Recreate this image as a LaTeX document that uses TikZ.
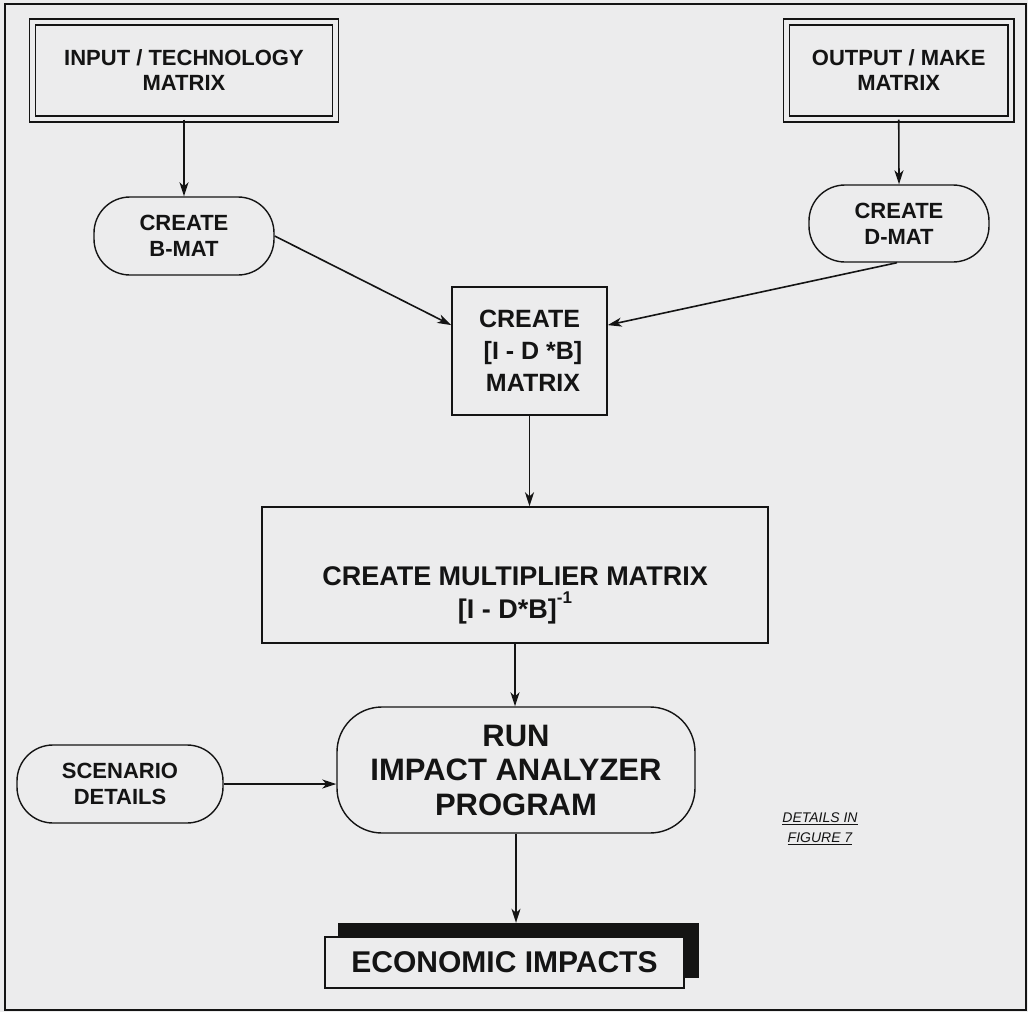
\documentclass[tikz,border=0pt]{standalone}
\usepackage{fontspec}
\setmainfont{Liberation Sans}
\usetikzlibrary{arrows.meta,calc}
\definecolor{paper}{RGB}{236,236,237}
\definecolor{ink}{RGB}{20,20,20}
\newcommand{\fsz}[2]{\bfseries\fontsize{#1}{#2}\selectfont}
\tikzset{
  every node/.style={text=ink, inner sep=0pt, align=center},
  dbox/.style={draw=ink, double=paper, double distance=4.5pt, line width=1.3pt},
  pbox/.style={draw=ink, line width=1.4pt, fill=paper},
  arr/.style={draw=ink, line width=1.6pt, -{Stealth[length=14pt,width=9pt,inset=4pt]}}
}
\begin{document}
\begin{tikzpicture}[x=1pt,y=-1pt]
\useasboundingbox (0,0) rectangle (1028,1012);
\fill[paper] (0,0) rectangle (1028,1012);
\draw[ink, line width=1.8pt] (5,4) rectangle (1026,1010);

\node[dbox, font=\fsz{22}{25}, minimum width=303pt, minimum height=97pt] (inp) at (184,70.5)
  {INPUT / TECHNOLOGY\\MATRIX};
\node[dbox, font=\fsz{22}{25}, minimum width=224.5pt, minimum height=97pt] (out) at (898.75,70.5)
  {OUTPUT / MAKE\\MATRIX};

\node[pbox, font=\fsz{22}{26}, rounded corners=36pt, minimum width=180pt, minimum height=78pt] (bmat) at (184,236)
  {CREATE\\B-MAT};
\node[pbox, font=\fsz{22}{26}, rounded corners=36pt, minimum width=180pt, minimum height=77pt] (dmat) at (899,223.5)
  {CREATE\\D-MAT};

\node[pbox, font=\fsz{25}{32}, minimum width=155pt, minimum height=128pt] (crm) at (529.5,351)
  {CREATE\\\ {[}I - D *B{]}\\\ MATRIX};

\node[pbox, minimum width=506pt, minimum height=136pt] (mult) at (515,575) {};
\node[font=\fsz{27}{33}] (multtext) at ($(mult.center)+(0,20)$)
  {CREATE MULTIPLIER MATRIX\\{[}I - D*B{]}\raisebox{0.55em}{\fontsize{17}{17}\selectfont -1}};

\node[pbox, font=\fsz{31}{34.5}, rounded corners=45pt, minimum width=358pt, minimum height=126pt] (run) at (516,770)
  {RUN\\IMPACT ANALYZER\\PROGRAM};

\node[pbox, font=\fsz{22}{26}, rounded corners=36pt, minimum width=206pt, minimum height=78pt] (scen) at (120,784)
  {SCENARIO\\DETAILS};

\node[fill=ink, draw=ink, minimum width=360pt, minimum height=54pt] (econsh) at (518,950) {};
\node[pbox, font=\fsz{30}{34}, line width=1.2pt, minimum width=359pt, minimum height=51pt] (econ) at (504.5,962.5)
  {ECONOMIC IMPACTS};

\node[font=\itshape\fontsize{14}{20}\selectfont] (det) at (820,829)
  {\underline{DETAILS IN}\\\underline{FIGURE 7}};

\draw[arr] (inp.south) -- (bmat.north);
\draw[arr] (out.south) -- (dmat.north);
\draw[arr] (bmat.east) -- ($(crm.north west)!0.3!(crm.south west)$);
\draw[arr] ($(dmat.south)+(-2,0)$) -- ($(crm.north east)!0.3!(crm.south east)$);
\draw[arr] (crm.south) -- (crm.south |- mult.north);
\draw[arr] (mult.south) -- (mult.south |- run.north);
\draw[arr] (scen.east) -- (scen.east -| run.west);
\draw[arr] (run.south) -- (run.south |- econsh.north);
\end{tikzpicture}
\end{document}
